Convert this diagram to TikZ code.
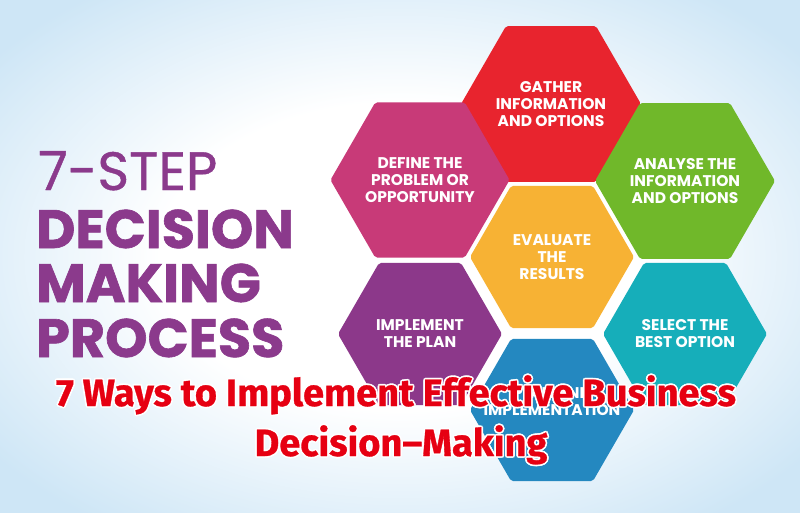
\documentclass[tikz,border=0pt]{standalone}
\usepackage{fontspec}
\setmainfont{Poppins}
\newfontfamily\waysfamily{Fira Sans}[BoldFeatures={FakeBold=0.8}]
\newfontfamily\stepfamily{Poppins}[FakeBold=0.8]
\newfontfamily\headfamily{Poppins}[BoldFeatures={FakeBold=1.2}]
\usetikzlibrary{shapes.geometric}

\definecolor{bgblue}{RGB}{206,230,246}
\definecolor{titlepurple}{RGB}{139,58,140}
\definecolor{wayred}{RGB}{230,0,18}
\definecolor{hexred}{RGB}{232,36,46}
\definecolor{hexpink}{RGB}{200,58,120}
\definecolor{hexgreen}{RGB}{112,184,42}
\definecolor{hexyellow}{RGB}{247,178,52}
\definecolor{hexpurple}{RGB}{140,56,138}
\definecolor{hexteal}{RGB}{22,174,186}
\definecolor{hexblue}{RGB}{36,136,192}

\newcommand\hexfont{\bfseries\fontsize{15.5}{17}\selectfont}
\newcommand\waysfont{\waysfamily\bfseries\fontsize{38}{40}\selectfont}

\pgfdeclareradialshading{bgshade}{\pgfpoint{0bp}{0bp}}{color(0bp)=(white); color(15bp)=(white); color(32bp)=(bgblue); color(50bp)=(bgblue)}

\begin{document}
\begin{tikzpicture}[x=1pt,y=-1pt,
	hexa/.style={regular polygon,regular polygon sides=6,minimum size=164pt,inner sep=0pt,
		fill=#1,text=white,align=center,font=\hexfont,rounded corners=2pt},
	titleline/.style={anchor=base west,inner sep=0pt,text=titlepurple,font=\headfamily\bfseries\fontsize{54}{60}\selectfont},
	ways/.style={anchor=base,inner sep=0pt,font=\waysfont}]
% background
\shade[shading=bgshade] (0,0) rectangle (800,513);
\useasboundingbox (0,0) rectangle (800,513);

% title
\node[titleline,font=\stepfamily\fontsize{54}{60}\selectfont] (t1) at (38,190) {7-STEP};
\node[titleline] (t2) at (36,248) {DECISION};
\node[titleline] (t3) at (36,302) {MAKING};
\node[titleline] (t4) at (36,357) {PROCESS};

% honeycomb
\node[hexa=hexred] (gather) at (551,104) {GATHER\\INFORMATION\\AND OPTIONS};
\node[hexa=hexpink] (define) at (420,180) {DEFINE THE\\PROBLEM OR\\OPPORTUNITY};
\node[hexa=hexgreen] (analyse) at (685,181) {ANALYSE THE\\INFORMATION\\AND OPTIONS};
\node[hexa=hexyellow] (evaluate) at (552,257) {EVALUATE\\THE\\RESULTS};
\node[hexa=hexpurple] (implement) at (420,334) {IMPLEMENT\\THE PLAN};
\node[hexa=hexteal] (select) at (685,334) {SELECT THE\\BEST OPTION};
\node[hexa=hexblue] (plan) at (552,410) {};
\node[text=white,font=\hexfont,align=center] (plantext) at (552,402) {PLAN AND\\IMPLEMENTATION};

% overlay heading with white rim
\foreach \a in {0,45,...,315} {
	\node[ways,text=white] (rimA\a) at ([shift={(\a:1.7)}]396,406) {7 Ways to Implement Effective Business};
	\node[ways,text=white] (rimB\a) at ([shift={(\a:1.7)}]401,456) {Decision–Making};
}
\node[ways,text=wayred] (waysA) at (396,406) {7 Ways to Implement Effective Business};
\node[ways,text=wayred] (waysB) at (401,456) {Decision–Making};
\end{tikzpicture}
\end{document}
